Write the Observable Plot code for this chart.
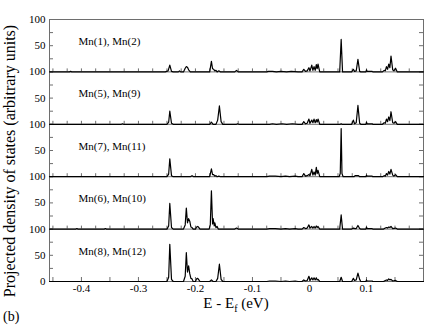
<!DOCTYPE html>
<html>
<head>
<meta charset="utf-8">
<script src="https://cdn.jsdelivr.net/npm/d3@7"></script>
<script src="https://cdn.jsdelivr.net/npm/@observablehq/plot@0.6"></script>
<style>
  html, body { margin: 0; padding: 0; background: white; }
  #chart { width: 425px; height: 327px; }
  #chart svg, #chart svg text { font-family: "Liberation Serif", "Times New Roman", serif !important; }
</style>
</head>
<body>
<div id="chart"></div>
<script>
// Panel labels (top to bottom)
const panelLabels = ["Mn(1), Mn(2)", "Mn(5), Mn(9)", "Mn(7), Mn(11)", "Mn(6), Mn(10)", "Mn(8), Mn(12)"];

// x tick labels (eV) and y tick values per panel
const xTickLabels = [-0.4, -0.3, -0.2, -0.1, 0, 0.1];
const yPanelTicks = [0, 25, 50, 75, 100];

// Projected DOS, [E - Ef (eV), value]
const pdos1 = [
  [-0.456,0],[-0.421,0],[-0.419,1],[-0.417,0],
  [-0.253,0],[-0.248,2],[-0.245,13],[-0.242,1],[-0.239,0],
  [-0.230,0],[-0.228,2],[-0.226,0],
  [-0.221,0],[-0.218,7],[-0.216,10],[-0.214,9],[-0.212,4],[-0.209,0],
  [-0.175,0],[-0.172,20],[-0.170,6],[-0.168,5],[-0.166,2],[-0.164,3],[-0.162,0],[-0.159,2],[-0.156,0],
  [-0.131,0],[-0.128,3],[-0.125,0],
  [-0.075,0],[-0.072,1],[-0.065,1],[-0.058,0],[-0.050,1],[-0.040,0],[-0.032,1],[-0.020,0],
  [-0.013,0],[-0.010,5],[-0.007,1],[-0.004,2],[-0.001,8],[0.001,2],[0.004,13],[0.006,3],[0.008,10],[0.010,3],[0.012,14],[0.0135,6],[0.015,15],[0.018,0],
  [0.053,0],[0.0556,62],[0.058,0],
  [0.074,0],[0.077,5],[0.079,1],[0.082,2],[0.085,24],[0.088,1],[0.090,0],
  [0.099,0],[0.100,4],[0.101,1],[0.110,1],[0.111,0],
  [0.128,0],[0.131,3],[0.133,2],[0.135,10],[0.137,5],[0.139,15],[0.141,8],[0.143,30],[0.146,4],[0.148,2],[0.151,7],[0.154,0],
  [0.200,0]
];
const pdos2 = [
  [-0.456,0],[-0.330,0],[-0.328,1],[-0.326,0],
  [-0.250,0],[-0.247,4],[-0.245,25],[-0.242,2],[-0.239,0],
  [-0.175,0],[-0.172,4],[-0.169,0],
  [-0.164,0],[-0.161,8],[-0.158,35],[-0.155,5],[-0.152,0],
  [-0.128,0],[-0.126,1],[-0.124,0],
  [-0.070,0],[-0.065,1],[-0.058,0],[-0.048,1],[-0.040,0],[-0.030,1],[-0.020,0],
  [-0.013,0],[-0.010,5],[-0.007,1],[-0.004,2],[-0.001,10],[0.001,2],[0.004,8],[0.006,3],[0.008,10],[0.010,3],[0.012,9],[0.0135,4],[0.015,10],[0.018,0],
  [0.054,0],[0.0556,1],[0.057,0],
  [0.074,0],[0.077,8],[0.079,1],[0.082,3],[0.085,36],[0.088,2],[0.090,0],
  [0.099,0],[0.100,4],[0.101,1],[0.110,1],[0.111,0],
  [0.128,0],[0.131,3],[0.133,2],[0.135,10],[0.137,5],[0.139,14],[0.141,7],[0.143,24],[0.146,3],[0.148,2],[0.151,5],[0.154,0],
  [0.200,0]
];
const pdos3 = [
  [-0.456,0],
  [-0.250,0],[-0.247,5],[-0.245,34],[-0.242,2],[-0.239,0],
  [-0.209,0],[-0.206,2],[-0.203,0],
  [-0.175,0],[-0.172,15],[-0.170,4],[-0.168,4],[-0.166,1],[-0.164,2],[-0.162,0],[-0.159,1],[-0.156,0],
  [-0.075,0],[-0.070,1],[-0.060,1],[-0.050,0],[-0.042,1],[-0.035,0],[-0.025,1],[-0.020,0],
  [-0.013,0],[-0.010,6],[-0.007,1],[-0.004,2],[-0.001,4],[0.001,2],[0.004,14],[0.006,3],[0.008,9],[0.010,3],[0.012,18],[0.0135,6],[0.015,12],[0.018,0],
  [0.052,0],[0.054,6],[0.0556,92],[0.057,6],[0.059,0],
  [0.078,0],[0.080,2],[0.086,2],[0.088,0],
  [0.099,0],[0.100,3],[0.101,1],[0.110,1],[0.111,0],
  [0.128,0],[0.131,2],[0.133,1],[0.135,6],[0.137,3],[0.139,10],[0.141,5],[0.143,14],[0.146,3],[0.148,1],[0.151,4],[0.154,0],
  [0.200,0]
];
const pdos4 = [
  [-0.456,0],[-0.410,0],[-0.408,1],[-0.406,0],[-0.360,0],[-0.358,1],[-0.356,0],
  [-0.250,0],[-0.247,6],[-0.245,49],[-0.242,3],[-0.239,0],
  [-0.221,0],[-0.218,8],[-0.216,40],[-0.214,12],[-0.212,20],[-0.210,15],[-0.208,4],[-0.206,3],[-0.204,0],
  [-0.200,0],[-0.198,4],[-0.196,5],[-0.194,3],[-0.192,0],
  [-0.176,0],[-0.174,8],[-0.172,73],[-0.170,10],[-0.169,20],[-0.167,6],[-0.166,12],[-0.164,3],[-0.162,5],[-0.160,0],
  [-0.131,0],[-0.128,2],[-0.125,0],
  [-0.075,0],[-0.070,1],[-0.060,1],[-0.050,0],[-0.042,1],[-0.035,0],[-0.025,1],[-0.020,0],
  [-0.013,0],[-0.010,3],[-0.007,1],[-0.004,2],[-0.001,8],[0.001,2],[0.004,5],[0.006,2],[0.008,5],[0.010,2],[0.012,6],[0.0135,3],[0.015,5],[0.018,0],
  [0.053,0],[0.0556,27],[0.058,0],
  [0.074,0],[0.077,2],[0.080,1],[0.082,1],[0.085,7],[0.088,1],[0.090,0],
  [0.099,0],[0.100,4],[0.101,1],[0.110,1],[0.111,0],
  [0.130,0],[0.133,2],[0.135,3],[0.137,2],[0.139,4],[0.141,3],[0.143,5],[0.146,1],[0.151,2],[0.154,0],
  [0.200,0]
];
const pdos5 = [
  [-0.456,0],
  [-0.250,0],[-0.247,8],[-0.245,71],[-0.242,4],[-0.239,0],
  [-0.221,0],[-0.218,10],[-0.216,55],[-0.214,18],[-0.212,30],[-0.210,15],[-0.208,6],[-0.206,5],[-0.204,0],
  [-0.200,0],[-0.198,5],[-0.196,6],[-0.194,3],[-0.192,0],
  [-0.175,0],[-0.172,3],[-0.169,0],
  [-0.164,0],[-0.161,6],[-0.158,33],[-0.155,4],[-0.152,0],
  [-0.075,0],[-0.070,1],[-0.060,1],[-0.050,0],[-0.042,1],[-0.035,0],[-0.025,1],[-0.020,0],
  [-0.013,0],[-0.010,3],[-0.007,1],[-0.004,2],[-0.001,10],[0.001,2],[0.004,7],[0.006,3],[0.008,7],[0.010,3],[0.012,7],[0.0135,3],[0.015,4],[0.018,0],
  [0.053,0],[0.0556,8],[0.058,0],
  [0.074,0],[0.077,6],[0.079,2],[0.082,3],[0.085,16],[0.088,4],[0.090,0],
  [0.099,0],[0.100,3],[0.101,1],[0.110,1],[0.111,0],
  [0.130,0],[0.133,2],[0.135,3],[0.137,2],[0.139,5],[0.141,3],[0.143,4],[0.146,1],[0.151,2],[0.154,0],
  [0.200,0]
];

const series = [pdos1, pdos2, pdos3, pdos4, pdos5];
const nPanels = series.length;
const span = 100;
const offsetOf = i => (nPanels - 1 - i) * span;

const rows = series.flatMap((s, i) => s.map(([e, v]) => ({panel: i, e, v, off: offsetOf(i)})));
const panels = panelLabels.map((label, i) => ({label, off: offsetOf(i)}));

const xDomain = [-0.456, 0.2];
const width = 425, height = 327;
const marginLeft = 49, marginRight = 2, marginTop = 19, marginBottom = 46;
const plotW = width - marginLeft - marginRight;
const plotH = height - marginTop - marginBottom;
const unitsPerPx = (span * nPanels) / plotH;

const yTickVals = panels.flatMap(p => yPanelTicks.map(t => p.off + t));
const yLabelVals = Array.from(new Set(panels.flatMap(p => [p.off, p.off + 50, p.off + 100])));
const yFmt = v => v === 0 ? "0" : (v % 100 === 0 ? "100" : "50");

const innerTickX = d3.range(-0.45, 0.2001, 0.025);
const bottomTickX = d3.range(-0.45, 0.2001, 0.05);
const innerTicks = panels.slice(0, nPanels - 1).flatMap(p => innerTickX.map(x => ({x, off: p.off})));

const frameColor = "#6e6e6e";

const svg = Plot.plot({
  width, height, marginLeft, marginRight, marginTop, marginBottom,
  style: {fontFamily: "'Liberation Serif', 'Times New Roman', serif", fontSize: "11px", background: "white", color: "black"},
  x: {domain: xDomain},
  y: {domain: [0, span * nPanels]},
  marks: [
    Plot.frame({stroke: frameColor}),
    Plot.ruleY(panels.slice(0, nPanels - 1), {y: d => d.off, stroke: frameColor}),
    Plot.tickY(yTickVals, {y: d => d, insetRight: plotW - 4, stroke: frameColor}),
    Plot.tickY(yTickVals, {y: d => d, insetLeft: plotW - 4, stroke: frameColor}),
    Plot.ruleX(innerTicks, {x: "x", y1: d => d.off, y2: d => d.off + 3 * unitsPerPx, stroke: frameColor}),
    Plot.ruleX(bottomTickX, {x: d => d, y1: 0, y2: 4 * unitsPerPx, stroke: frameColor}),
    Plot.line(rows, {x: "e", y: d => d.v + d.off, z: "panel", stroke: "black", strokeWidth: 1.2}),
    Plot.text(panels, {x: () => -0.405, y: d => d.off + 58, text: "label", textAnchor: "start", lineAnchor: "middle", fontSize: 11}),
    Plot.axisX({ticks: xTickLabels, tickSize: 0, tickPadding: 3, tickFormat: d => d === 0 ? "0" : String(d), label: null, fontSize: 11}),
    Plot.axisY({ticks: yLabelVals, tickSize: 0, tickPadding: 4, tickFormat: yFmt, label: null, fontSize: 11})
  ]
});

const s = d3.select(svg);
s.append("text")
  .attr("transform", `translate(15,161) rotate(-90)`)
  .attr("text-anchor", "middle")
  .attr("font-size", 16)
  .attr("fill", "black")
  .text("Projected density of states (arbitrary units)");

const xt = s.append("text")
  .attr("x", 236).attr("y", 308)
  .attr("text-anchor", "middle")
  .attr("font-size", 15)
  .attr("fill", "black");
xt.append("tspan").text("E - E");
xt.append("tspan").attr("font-size", 10).attr("dy", 4).text("f");
xt.append("tspan").attr("dy", -4).text(" (eV)");

s.append("text")
  .attr("x", 3).attr("y", 321)
  .attr("text-anchor", "start")
  .attr("font-size", 14)
  .attr("fill", "black")
  .text("(b)");

document.getElementById("chart").appendChild(svg);
</script>
</body>
</html>
